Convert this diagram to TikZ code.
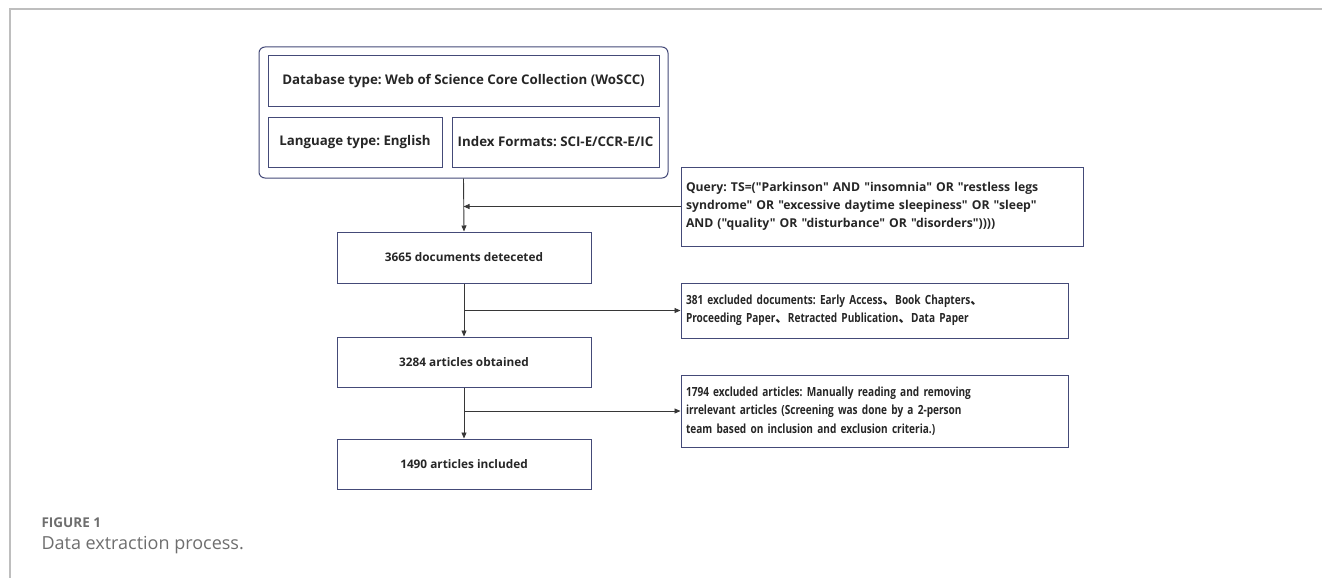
\documentclass[tikz,border=0pt]{standalone}
\usepackage{fontspec}
\setmainfont{Open Sans}[Ligatures=TeXOff]
\newfontfamily\narrowfont{Open Sans}[FakeStretch=0.8, Ligatures=TeXOff]
\newfontfamily\cjk{Noto Sans CJK SC}
\newfontfamily\capfont{Open Sans}
\usetikzlibrary{arrows.meta,positioning}
\definecolor{boxline}{RGB}{68,74,120}
\definecolor{flow}{RGB}{55,55,55}
\definecolor{frame}{RGB}{190,190,190}
\definecolor{captext}{RGB}{110,110,110}
\newcommand{\dun}{{\cjk 、}}
\frenchspacing

\begin{document}
\begin{tikzpicture}[
  x=1pt, y=-1pt,
  box/.style={draw=boxline, line width=1pt, minimum height=50pt, inner sep=0pt,
              font=\fontsize{11.8}{14}\selectfont\bfseries, text=black!85},
  critbox/.style={box, font=\fontsize{13.3}{16}\selectfont\bfseries},
  sidebox/.style={draw=boxline, line width=1pt, inner xsep=5pt, inner ysep=0pt, align=left,
              font=\fontsize{12.2}{18.3}\selectfont\bfseries, text=black!85},
  narrow/.style={font=\narrowfont\fontsize{12.6}{18.3}\selectfont\bfseries},
  arr/.style={-{Triangle[length=6pt,width=5pt]}, draw=flow, line width=0.9pt},
  rule/.style={draw=frame, line width=1.2pt}
]
\useasboundingbox (0,0) rectangle (1322,578);

% page frame
\draw[rule] (10,578) -- (10,9) -- (1322,9);

% === Search criteria ===
\node[draw=boxline, line width=1pt, rounded corners=6pt, minimum width=409pt, minimum height=131pt] (criteria) at (463.5,112.5) {};
\node[critbox, minimum width=391pt] (dbtype) at (463.5,81) {Database type: Web of Science Core Collection (WoSCC)};
\node[critbox, minimum width=174pt] (lang) at (355,142) {Language type: English};
\node[critbox, minimum width=207pt] (index) at (555.5,142) {Index Formats: SCI-E/CCR-E/IC};

% === Main flow ===
\node[box, minimum width=254pt, minimum height=51pt] (detected) at (464,257.5) {3665 documents deteceted};
\node[box, minimum width=254pt] (obtained) at (464,362) {3284 articles obtained};
\node[box, minimum width=254pt] (included) at (464,464) {1490 articles included};

% === Side notes ===
\node[sidebox, text width=392pt, minimum height=79pt] (query) at (882,206.5)
  {Query: TS=("Parkinson" AND "insomnia" OR "restless legs\\
   syndrome" OR "excessive daytime sleepiness" OR "sleep"\\
   AND ("quality" OR "disturbance" OR "disorders"))))};
\node[sidebox, narrow, text width=377pt, minimum height=55pt] (excldocs) at (874.5,310.5)
  {381 excluded documents: Early Access\dun Book Chapters\dun\\
   Proceeding Paper\dun Retracted Publication\dun Data Paper};
\node[sidebox, narrow, text width=377pt, minimum height=72pt] (exclarts) at (874.5,411)
  {1794 excluded articles: Manually reading and removing\\
   irrelevant articles (Screening was done by a 2-person\\
   team based on inclusion and exclusion criteria.)};

% connectors
\draw[arr] (criteria.south) -- (detected.north);
\draw[arr] (query.west) -- (query.west -| criteria.south);
\draw[arr] (detected) -- (obtained);
\draw[arr] (detected.south |- excldocs.west) -- (excldocs.west);
\draw[arr] (obtained) -- (included);
\draw[arr] (obtained.south |- exclarts.west) -- (exclarts.west);

% caption
\node[anchor=west, font=\capfont\fontsize{13.5}{16}\selectfont\bfseries, text=captext] (figno) at (38,523) {FIGURE 1};
\node[anchor=west, font=\capfont\fontsize{18}{21}\selectfont, text=captext] (figcap) at (38,545) {Data extraction process.};
\end{tikzpicture}
\end{document}
